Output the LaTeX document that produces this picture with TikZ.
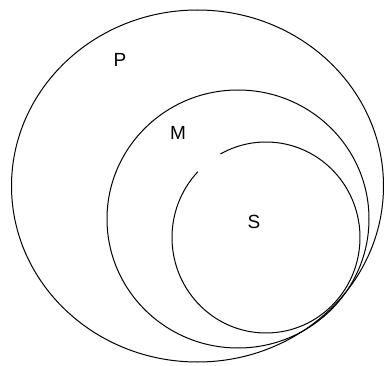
\documentclass[tikz,border=0pt]{standalone}
\usepackage{fontspec}
\setmainfont{Liberation Sans}
\usepackage{tikz}
\usetikzlibrary{positioning}

\begin{document}
\begin{tikzpicture}[
    x=1pt,y=1pt,
    setline/.style={draw=black,line width=1pt},
    setlabel/.style={inner sep=0pt,font=\fontsize{19}{19}\selectfont}
  ]
  \useasboundingbox (0,0) rectangle (386,365);
  % Centres
  \coordinate (cP) at (197.5,179);
  \coordinate (cM) at (238,146);
  \coordinate (cS) at (266,127.5);
  % Sets
  \draw[setline] (cP) ellipse [x radius=186,y radius=176];
  \draw[setline] (cM) ellipse [x radius=131,y radius=129];
  \draw[setline] ([shift={(136.5:94 and 95.5)}]cS)
    arc[start angle=136.5,end angle=479,x radius=94,y radius=95.5];
  % Labels
  \node[setlabel] (labP) at (120,305) {P};
  \node[setlabel] (labM) at (178,232) {M};
  \node[setlabel] (labS) at (254,143) {S};
\end{tikzpicture}
\end{document}
